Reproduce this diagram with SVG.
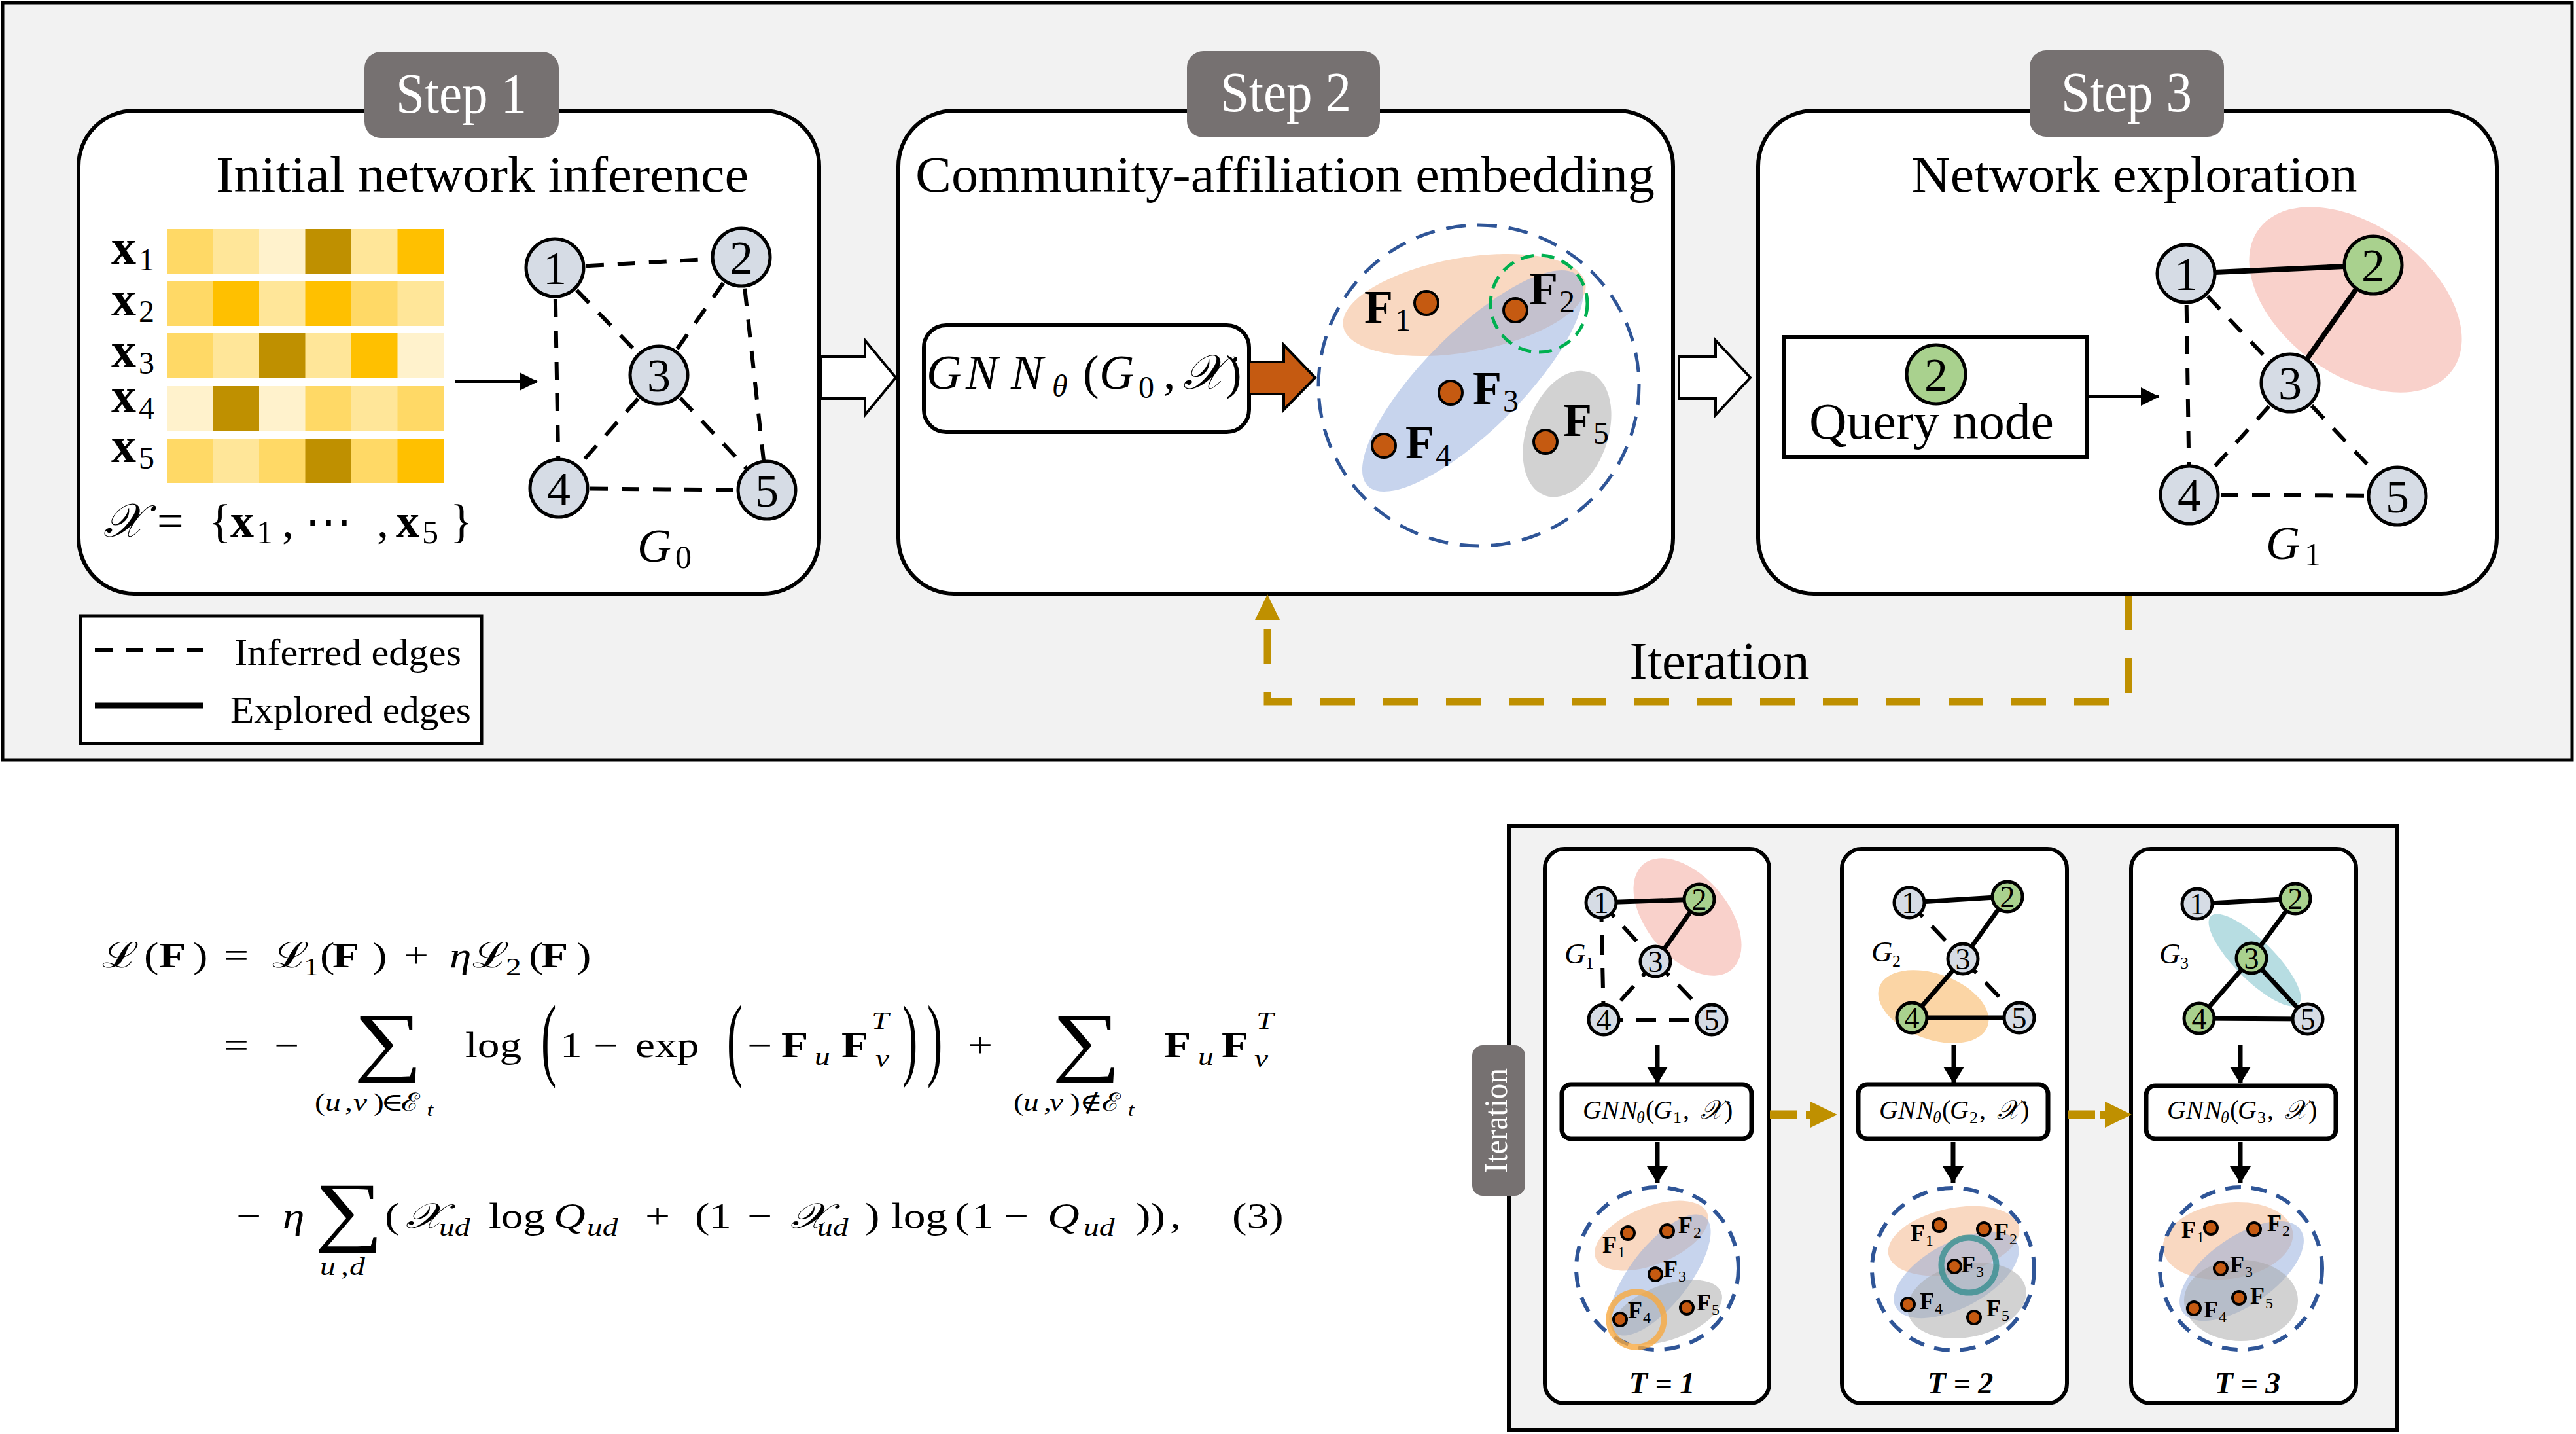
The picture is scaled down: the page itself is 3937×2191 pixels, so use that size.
<svg xmlns="http://www.w3.org/2000/svg" width="3937" height="2191" viewBox="0 0 3937 2191">
<defs>
<style>
text{font-family:"Liberation Serif","DejaVu Serif",serif;fill:#000}
.it{font-style:italic}
.b{font-weight:bold}
.wt{fill:#fff}
.panel{fill:#fff;stroke:#000;stroke-width:6}
.tab{fill:#767171}
.node{fill:#D6DCE5;stroke:#000;stroke-width:5}
.gnode{fill:#A9D18E;stroke:#000;stroke-width:5}
.dash{stroke:#000;stroke-width:6;stroke-dasharray:27 21;fill:none}
.solid{stroke:#000;stroke-width:8;fill:none}
.sdash{stroke:#000;stroke-width:6;stroke-dasharray:30 20;fill:none}
.ssolid{stroke:#000;stroke-width:7;fill:none}
.dot{fill:#C55A11;stroke:#000;stroke-width:4}
.emb{fill:none;stroke:#2F5597;stroke-width:5;stroke-dasharray:30 18}
.semb{fill:none;stroke:#2F5597;stroke-width:6;stroke-dasharray:24 16}
.eo{fill:#F4B183;opacity:0.5}
.eb{fill:#8FAADC;opacity:0.5}
.eg{fill:#A6A6A6;opacity:0.5}
.arr{stroke:#000;stroke-width:4;fill:none}
.sarr{stroke:#000;stroke-width:7;fill:none}
</style>
<marker id="ah" markerUnits="userSpaceOnUse" markerWidth="28" markerHeight="28" viewBox="0 0 28 28" refX="27" refY="14" orient="auto"><path d="M0,0 L28,14 L0,28 Z" fill="#000"/></marker>
<marker id="ahs" markerUnits="userSpaceOnUse" markerWidth="26" markerHeight="32" viewBox="0 0 26 32" refX="25" refY="16" orient="auto"><path d="M0,0 L26,16 L0,32 Z" fill="#000"/></marker>
</defs>

<!-- top frame -->
<rect x="4" y="4" width="3927" height="1157" fill="#F2F2F2" stroke="#000" stroke-width="5"/>

<!-- Step panels -->
<g id="step1">
<rect class="panel" x="120" y="169" width="1132" height="738" rx="85"/>
<rect class="tab" x="557" y="79" width="297" height="132" rx="25"/>
<text class="wt" x="705" y="172" font-size="86" text-anchor="middle" textLength="200" lengthAdjust="spacingAndGlyphs">Step 1</text>
<text x="737" y="293" font-size="78" text-anchor="middle" textLength="814" lengthAdjust="spacingAndGlyphs">Initial network inference</text>
</g>
<g id="step2">
<rect class="panel" x="1373" y="169" width="1184" height="738" rx="85"/>
<rect class="tab" x="1814" y="78" width="295" height="132" rx="25"/>
<text class="wt" x="1965" y="170" font-size="86" text-anchor="middle" textLength="200" lengthAdjust="spacingAndGlyphs">Step 2</text>
<text x="1964" y="293" font-size="78" text-anchor="middle" textLength="1130" lengthAdjust="spacingAndGlyphs">Community-affiliation embedding</text>
</g>
<g id="step3">
<rect class="panel" x="2687" y="169" width="1129" height="738" rx="85"/>
<rect class="tab" x="3102" y="77" width="297" height="132" rx="25"/>
<text class="wt" x="3250" y="170" font-size="86" text-anchor="middle" textLength="200" lengthAdjust="spacingAndGlyphs">Step 3</text>
<text x="3262" y="293" font-size="78" text-anchor="middle" textLength="681" lengthAdjust="spacingAndGlyphs">Network exploration</text>
</g>

<!-- heatmap -->
<g id="features">
<g stroke="none">
<rect x="255" y="350" width="71" height="68" fill="#FFD966"/><rect x="325.5" y="350" width="71" height="68" fill="#FFE699"/><rect x="396" y="350" width="71" height="68" fill="#FFF2CC"/><rect x="466.5" y="350" width="71" height="68" fill="#BF9000"/><rect x="537" y="350" width="71" height="68" fill="#FFE699"/><rect x="607.5" y="350" width="71" height="68" fill="#FFC000"/>
<rect x="255" y="430" width="71" height="68" fill="#FFD966"/><rect x="325.5" y="430" width="71" height="68" fill="#FFC000"/><rect x="396" y="430" width="71" height="68" fill="#FFE699"/><rect x="466.5" y="430" width="71" height="68" fill="#FFC000"/><rect x="537" y="430" width="71" height="68" fill="#FFD966"/><rect x="607.5" y="430" width="71" height="68" fill="#FFE699"/>
<rect x="255" y="509" width="71" height="68" fill="#FFD966"/><rect x="325.5" y="509" width="71" height="68" fill="#FFE699"/><rect x="396" y="509" width="71" height="68" fill="#BF9000"/><rect x="466.5" y="509" width="71" height="68" fill="#FFE699"/><rect x="537" y="509" width="71" height="68" fill="#FFC000"/><rect x="607.5" y="509" width="71" height="68" fill="#FFF2CC"/>
<rect x="255" y="590" width="71" height="68" fill="#FFF2CC"/><rect x="325.5" y="590" width="71" height="68" fill="#BF9000"/><rect x="396" y="590" width="71" height="68" fill="#FFF2CC"/><rect x="466.5" y="590" width="71" height="68" fill="#FFD966"/><rect x="537" y="590" width="71" height="68" fill="#FFE699"/><rect x="607.5" y="590" width="71" height="68" fill="#FFD966"/>
<rect x="255" y="670" width="71" height="68" fill="#FFD966"/><rect x="325.5" y="670" width="71" height="68" fill="#FFE699"/><rect x="396" y="670" width="71" height="68" fill="#FFD966"/><rect x="466.5" y="670" width="71" height="68" fill="#BF9000"/><rect x="537" y="670" width="71" height="68" fill="#FFD966"/><rect x="607.5" y="670" width="71" height="68" fill="#FFC000"/>
</g>
<text font-size="76"><tspan x="170" y="403" class="b">x</tspan><tspan x="212" y="413" font-size="48">1</tspan><tspan x="170" y="482" class="b">x</tspan><tspan x="212" y="492" font-size="48">2</tspan><tspan x="170" y="561" class="b">x</tspan><tspan x="212" y="571" font-size="48">3</tspan><tspan x="170" y="630" class="b">x</tspan><tspan x="212" y="640" font-size="48">4</tspan><tspan x="170" y="706" class="b">x</tspan><tspan x="212" y="716" font-size="48">5</tspan></text>
<text y="820" font-size="72"><tspan x="158" class="it">𝒳</tspan><tspan x="240">=</tspan><tspan x="319">{</tspan><tspan x="352" class="b">x</tspan><tspan x="392" y="830" font-size="50">1</tspan><tspan x="431" y="820">,</tspan><tspan x="466">⋯</tspan><tspan x="576">,</tspan><tspan x="605" class="b">x</tspan><tspan x="645" y="830" font-size="50">5</tspan><tspan x="688" y="820">}</tspan></text>
</g>

<!-- legend -->
<g id="legend">
<rect x="123" y="941" width="613" height="195" fill="#fff" stroke="#000" stroke-width="5"/>
<line x1="145" y1="993" x2="311" y2="993" stroke="#000" stroke-width="6" stroke-dasharray="27 20"/>
<line x1="145" y1="1078" x2="311" y2="1078" stroke="#000" stroke-width="9"/>
<text x="358" y="1016" font-size="58" textLength="347" lengthAdjust="spacingAndGlyphs">Inferred edges</text>
<text x="352" y="1104" font-size="58" textLength="368" lengthAdjust="spacingAndGlyphs">Explored edges</text>
</g>

<!-- Step 3 pink community -->
<ellipse cx="3600" cy="458" rx="183" ry="114" transform="rotate(36 3600 458)" fill="#F9D1CB"/>

<!-- Step 2 embedding -->
<g id="embedding">
<ellipse class="eo" cx="2238" cy="466" rx="188" ry="72" transform="rotate(-10 2238 466)"/>
<ellipse class="eb" cx="2251" cy="582" rx="227" ry="75" transform="rotate(-45 2251 582)"/>
<ellipse class="eg" cx="2395" cy="663" rx="100" ry="62" transform="rotate(-70 2395 663)"/>
<circle class="emb" cx="2260" cy="589" r="245"/>
<circle cx="2352" cy="464" r="74" fill="none" stroke="#00B050" stroke-width="5" stroke-dasharray="20 12"/>
<circle class="dot" cx="2180" cy="463" r="18"/>
<circle class="dot" cx="2316" cy="474" r="18"/>
<circle class="dot" cx="2217" cy="600" r="18"/>
<circle class="dot" cx="2115" cy="681" r="18"/>
<circle class="dot" cx="2362" cy="675" r="18"/>
<text y="493" font-size="72"><tspan x="2085" class="b">F</tspan><tspan x="2132" y="505" font-size="48">1</tspan></text>
<text y="465" font-size="72"><tspan x="2337" class="b">F</tspan><tspan x="2383" y="477" font-size="48">2</tspan></text>
<text y="617" font-size="72"><tspan x="2251" class="b">F</tspan><tspan x="2297" y="629" font-size="48">3</tspan></text>
<text y="700" font-size="72"><tspan x="2148" class="b">F</tspan><tspan x="2194" y="712" font-size="48">4</tspan></text>
<text y="666" font-size="72"><tspan x="2389" class="b">F</tspan><tspan x="2435" y="678" font-size="48">5</tspan></text>
</g>

<g id="gnn">
<rect x="1412" y="497" width="497" height="163" rx="34" fill="#fff" stroke="#000" stroke-width="6"/>
<text y="594" font-size="74"><tspan x="1416" class="it">G</tspan><tspan x="1476" class="it">N</tspan><tspan x="1545" class="it">N</tspan><tspan x="1608" y="606" font-size="48" class="it">θ</tspan><tspan x="1655" y="594">(</tspan><tspan x="1680" class="it">G</tspan><tspan x="1740" y="608" font-size="48">0</tspan><tspan x="1778" y="594">,</tspan><tspan x="1808" class="it">𝒳</tspan><tspan x="1873">)</tspan></text>
</g>

<g id="query">
<rect x="2726" y="515" width="463" height="183" fill="#fff" stroke="#000" stroke-width="6"/>
<circle class="gnode" cx="2959" cy="572" r="45"/>
<text x="2959" y="597" font-size="72" text-anchor="middle">2</text>
<text x="2952" y="670" font-size="78" text-anchor="middle" textLength="374" lengthAdjust="spacingAndGlyphs">Query node</text>
</g>

<!-- connectors (top) -->
<g id="connectors">
<line class="dash" x1="848" y1="409" x2="1133" y2="393"/>
<line class="dash" x1="848" y1="409" x2="1007" y2="573"/>
<line class="dash" x1="848" y1="409" x2="854" y2="746"/>
<line class="dash" x1="1133" y1="393" x2="1007" y2="573"/>
<line class="dash" x1="1133" y1="393" x2="1172" y2="749"/>
<line class="dash" x1="1007" y1="573" x2="854" y2="746"/>
<line class="dash" x1="1007" y1="573" x2="1172" y2="749"/>
<line class="dash" x1="854" y1="746" x2="1172" y2="749"/>

<line class="solid" x1="3341" y1="418" x2="3627" y2="405"/>
<line class="solid" x1="3627" y1="405" x2="3500" y2="585"/>
<line class="dash" x1="3341" y1="418" x2="3500" y2="585"/>
<line class="dash" x1="3341" y1="418" x2="3346" y2="756"/>
<line class="dash" x1="3500" y1="585" x2="3346" y2="756"/>
<line class="dash" x1="3500" y1="585" x2="3664" y2="758"/>
<line class="dash" x1="3346" y1="756" x2="3664" y2="758"/>

<line class="arr" x1="695" y1="583" x2="821" y2="583" marker-end="url(#ah)"/>
<line class="arr" x1="3189" y1="606" x2="3299" y2="606" marker-end="url(#ah)"/>

<polygon points="1909,553 1962,553 1962,527 2010,577 1962,626 1962,602 1909,602" fill="#C55A11" stroke="#000" stroke-width="4"/>
<polygon points="1255,545 1322,545 1322,520 1369,577 1322,634 1322,609 1255,609" fill="#fff" stroke="#000" stroke-width="4"/>
<polygon points="2566,545 2622,545 2622,520 2675,577 2622,634 2622,609 2566,609" fill="#fff" stroke="#000" stroke-width="4"/>

<path d="M3253,910 V1072 H1937 V945" fill="none" stroke="#BF9000" stroke-width="11" stroke-dasharray="53 43"/>
<polygon points="1937,908 1918,947 1956,947" fill="#BF9000"/>
</g>
<text x="2628" y="1037" font-size="80" text-anchor="middle" textLength="275" lengthAdjust="spacingAndGlyphs">Iteration</text>

<!-- G0 nodes -->
<g id="g0n1"><circle class="node" cx="848" cy="409" r="44"/><text x="848" y="434" font-size="72" text-anchor="middle">1</text></g>
<g id="g0n2"><circle class="node" cx="1133" cy="393" r="44"/><text x="1133" y="418" font-size="72" text-anchor="middle">2</text></g>
<g id="g0n3"><circle class="node" cx="1007" cy="573" r="44"/><text x="1007" y="598" font-size="72" text-anchor="middle">3</text></g>
<g id="g0n4"><circle class="node" cx="854" cy="746" r="44"/><text x="854" y="771" font-size="72" text-anchor="middle">4</text></g>
<g id="g0n5"><circle class="node" cx="1172" cy="749" r="44"/><text x="1172" y="774" font-size="72" text-anchor="middle">5</text></g>
<text y="858" font-size="72"><tspan x="974" class="it">G</tspan><tspan x="1032" y="868" font-size="50">0</tspan></text>

<!-- G1 nodes -->
<g id="g1n1"><circle class="node" cx="3341" cy="418" r="44"/><text x="3341" y="443" font-size="72" text-anchor="middle">1</text></g>
<g id="g1n2"><circle class="gnode" cx="3627" cy="405" r="44"/><text x="3627" y="430" font-size="72" text-anchor="middle">2</text></g>
<g id="g1n3"><circle class="node" cx="3500" cy="585" r="44"/><text x="3500" y="610" font-size="72" text-anchor="middle">3</text></g>
<g id="g1n4"><circle class="node" cx="3346" cy="756" r="44"/><text x="3346" y="781" font-size="72" text-anchor="middle">4</text></g>
<g id="g1n5"><circle class="node" cx="3664" cy="758" r="44"/><text x="3664" y="783" font-size="72" text-anchor="middle">5</text></g>
<text y="854" font-size="72"><tspan x="3463" class="it">G</tspan><tspan x="3522" y="864" font-size="50">1</tspan></text>

<!-- Formula -->
<g id="formula" transform="scale(1.25 1)" font-size="54">
<text y="1478"><tspan x="124.8">ℒ</tspan><tspan x="176">(</tspan><tspan x="194.4" class="b">F</tspan><tspan x="236">)</tspan><tspan x="273.6">=</tspan><tspan x="332.8">ℒ</tspan><tspan x="371.2" y="1490" font-size="38">1</tspan><tspan x="391.2" y="1478">(</tspan><tspan x="406.4" class="b">F</tspan><tspan x="455.2">)</tspan><tspan x="493.6">+</tspan><tspan x="549.6" class="it">η</tspan><tspan x="577.6">ℒ</tspan><tspan x="618.4" y="1490" font-size="38">2</tspan><tspan x="646.4" y="1478">(</tspan><tspan x="661.6" class="b">F</tspan><tspan x="704.8">)</tspan></text>
<text y="1615"><tspan x="273.6">=</tspan><tspan x="335.2">−</tspan><tspan x="432.8" y="1630" font-size="118">∑</tspan><tspan x="568.8" y="1615">log</tspan><tspan x="684.8">1</tspan><tspan x="725.6">−</tspan><tspan x="776.8">exp</tspan><tspan x="913.6">−</tspan><tspan x="955.2" class="b">F</tspan><tspan x="996" y="1627" font-size="38" class="it">u</tspan><tspan x="1028.8" y="1615" class="b">F</tspan><tspan x="1065.6" y="1572" font-size="38" class="it">T</tspan><tspan x="1070.4" y="1630" font-size="38" class="it">v</tspan><tspan x="1183.2" y="1615">+</tspan><tspan x="1286.4" y="1630" font-size="118">∑</tspan><tspan x="1423.2" y="1615" class="b">F</tspan><tspan x="1464.8" y="1627" font-size="38" class="it">u</tspan><tspan x="1493.6" y="1615" class="b">F</tspan><tspan x="1536" y="1572" font-size="38" class="it">T</tspan><tspan x="1533.6" y="1630" font-size="38" class="it">v</tspan><tspan font-size="38" x="384.8" y="1697">(</tspan><tspan font-size="38" x="397.6" class="it">u</tspan><tspan font-size="38" x="421.6">,</tspan><tspan font-size="38" x="432" class="it">v</tspan><tspan font-size="38" x="456.8">)</tspan><tspan font-size="38" x="465.6">∈</tspan><tspan font-size="38" x="490.4">ℰ</tspan><tspan x="522" y="1705" font-size="28" class="it">t</tspan><tspan font-size="38" x="1239.2" y="1697">(</tspan><tspan font-size="38" x="1251.2" class="it">u</tspan><tspan font-size="38" x="1276">,</tspan><tspan font-size="38" x="1283.2" class="it">v</tspan><tspan font-size="38" x="1308">)</tspan><tspan font-size="38" x="1320">∉</tspan><tspan font-size="38" x="1347.2">ℰ</tspan><tspan x="1379" y="1705" font-size="28" class="it">t</tspan></text>
<text y="1876"><tspan x="288.8">−</tspan><tspan x="345.6" class="it">η</tspan><tspan x="384.8" y="1889" font-size="118">∑</tspan><tspan x="470.4" y="1876">(</tspan><tspan x="496" class="it">𝒳</tspan><tspan x="536.8" y="1888" font-size="38" class="it">ud</tspan><tspan x="597.6" y="1876">log</tspan><tspan x="676.8" class="it">Q</tspan><tspan x="717.6" y="1888" font-size="38" class="it">ud</tspan><tspan x="788.8" y="1876">+</tspan><tspan x="849.6">(</tspan><tspan x="867.2">1</tspan><tspan x="913.6">−</tspan><tspan x="966.4" class="it">𝒳</tspan><tspan x="999.2" y="1888" font-size="38" class="it">ud</tspan><tspan x="1057.6" y="1876">)</tspan><tspan x="1089.6">log</tspan><tspan x="1167.2">(</tspan><tspan x="1188">1</tspan><tspan x="1227.2">−</tspan><tspan x="1280.8" class="it">Q</tspan><tspan x="1324.8" y="1888" font-size="38" class="it">ud</tspan><tspan x="1388.8" y="1876">))</tspan><tspan x="1430.4">,</tspan><tspan x="1506.4">(3)</tspan><tspan x="391.2" y="1948" font-size="38" class="it">u</tspan><tspan x="416.8" font-size="38">,</tspan><tspan x="427.2" font-size="38" class="it">d</tspan></text>
</g>
<text transform="translate(827 1633) scale(0.5 1)" font-size="140">(</text>
<text transform="translate(1111 1633) scale(0.5 1)" font-size="140">(</text>
<text transform="translate(1379 1633) scale(0.5 1)" font-size="140">)</text>
<text transform="translate(1417 1633) scale(0.5 1)" font-size="140">)</text>

<!-- bottom right iteration panel -->
<rect x="2306" y="1262" width="1357" height="923" fill="#F2F2F2" stroke="#000" stroke-width="6"/>
<g id="iterTab">
<rect class="tab" x="2250" y="1597" width="81" height="230" rx="16"/>
<text class="wt" transform="translate(2303 1712) rotate(-90)" font-size="50" text-anchor="middle" textLength="160" lengthAdjust="spacingAndGlyphs">Iteration</text>
</g>

<!-- T1 -->
<g id="T1" transform="translate(2361 1297)">
<rect class="panel" x="0" y="0" width="343" height="847" rx="30"/>
<ellipse cx="218" cy="104" rx="105" ry="62" transform="rotate(50 218 104)" fill="#F9D1CB"/>
<line class="ssolid" x1="86" y1="82" x2="236" y2="77"/>
<line class="ssolid" x1="236" y1="77" x2="169" y2="172"/>
<line class="sdash" x1="86" y1="82" x2="169" y2="172"/>
<line class="sdash" x1="86" y1="82" x2="90" y2="261"/>
<line class="sdash" x1="169" y1="172" x2="90" y2="261"/>
<line class="sdash" x1="169" y1="172" x2="255" y2="261"/>
<line class="sdash" x1="90" y1="261" x2="255" y2="261"/>
<g id="t1n1"><circle class="node" cx="86" cy="82" r="23"/><text x="86" y="98" font-size="46" text-anchor="middle">1</text></g>
<g id="t1n2"><circle class="gnode" cx="236" cy="77" r="23"/><text x="236" y="93" font-size="46" text-anchor="middle">2</text></g>
<g id="t1n3"><circle class="node" cx="169" cy="172" r="23"/><text x="169" y="188" font-size="46" text-anchor="middle">3</text></g>
<g id="t1n4"><circle class="node" cx="90" cy="261" r="23"/><text x="90" y="277" font-size="46" text-anchor="middle">4</text></g>
<g id="t1n5"><circle class="node" cx="255" cy="261" r="23"/><text x="255" y="277" font-size="46" text-anchor="middle">5</text></g>
<text y="175" font-size="45"><tspan x="30" class="it">G</tspan><tspan x="62" y="183" font-size="26">1</tspan></text>
<line class="sarr" x1="172" y1="300" x2="172" y2="358" marker-end="url(#ahs)"/>
<rect x="26" y="360" width="290" height="83" rx="14" fill="#fff" stroke="#000" stroke-width="7"/>
<text y="412" font-size="40"><tspan x="58" class="it">G</tspan><tspan x="87" class="it">N</tspan><tspan x="115" class="it">N</tspan><tspan x="140" y="419" font-size="26" class="it">θ</tspan><tspan x="154" y="412">(</tspan><tspan x="166" class="it">G</tspan><tspan x="196" y="419" font-size="26">1</tspan><tspan x="211" y="412">,</tspan><tspan x="238" class="it">𝒳</tspan><tspan x="274">)</tspan></text>
<line class="sarr" x1="172" y1="448" x2="172" y2="510" marker-end="url(#ahs)"/>
<ellipse class="eo" cx="163" cy="591" rx="92" ry="44" transform="rotate(-22 163 591)"/>
<ellipse class="eb" cx="176" cy="651" rx="112" ry="45" transform="rotate(-52 176 651)"/>
<ellipse class="eg" cx="187" cy="708" rx="88" ry="42" transform="rotate(-20 187 708)"/>
<circle class="semb" cx="172" cy="641" r="124"/>
<circle cx="140" cy="719" r="42" fill="none" stroke="#F7A940" stroke-width="9" opacity="0.8"/>
<circle class="dot" cx="127" cy="587" r="10"/>
<circle class="dot" cx="187" cy="584" r="10"/>
<circle class="dot" cx="169" cy="650" r="10"/>
<circle class="dot" cx="115" cy="719" r="10"/>
<circle class="dot" cx="217" cy="701" r="10"/>
<text y="617" font-size="36"><tspan x="88" class="b">F</tspan><tspan x="111" y="624" font-size="24">1</tspan></text>
<text y="587" font-size="36"><tspan x="204" class="b">F</tspan><tspan x="227" y="594" font-size="24">2</tspan></text>
<text y="654" font-size="36"><tspan x="181" class="b">F</tspan><tspan x="204" y="661" font-size="24">3</tspan></text>
<text y="717" font-size="36"><tspan x="127" class="b">F</tspan><tspan x="150" y="724" font-size="24">4</tspan></text>
<text y="705" font-size="36"><tspan x="232" class="b">F</tspan><tspan x="255" y="712" font-size="24">5</tspan></text>
<text x="179" y="832" font-size="46" text-anchor="middle" class="it b">T = 1</text>
</g>

<!-- T2 -->
<g id="T2" transform="translate(2815 1297)">
<rect class="panel" x="0" y="0" width="344" height="847" rx="30"/>
<ellipse cx="140" cy="241" rx="88" ry="50" transform="rotate(20 140 241)" fill="#FBD5A5"/>
<line class="ssolid" x1="103" y1="82" x2="253" y2="73"/>
<line class="ssolid" x1="253" y1="73" x2="185" y2="168"/>
<line class="ssolid" x1="185" y1="168" x2="107" y2="258"/>
<line class="ssolid" x1="107" y1="258" x2="271" y2="258"/>
<line class="sdash" x1="103" y1="82" x2="185" y2="168"/>
<line class="sdash" x1="185" y1="168" x2="271" y2="258"/>
<g id="t2n1"><circle class="node" cx="103" cy="82" r="23"/><text x="103" y="98" font-size="46" text-anchor="middle">1</text></g>
<g id="t2n2"><circle class="gnode" cx="253" cy="73" r="23"/><text x="253" y="89" font-size="46" text-anchor="middle">2</text></g>
<g id="t2n3"><circle class="node" cx="185" cy="168" r="23"/><text x="185" y="184" font-size="46" text-anchor="middle">3</text></g>
<g id="t2n4"><circle class="gnode" cx="107" cy="258" r="23"/><text x="107" y="274" font-size="46" text-anchor="middle">4</text></g>
<g id="t2n5"><circle class="node" cx="271" cy="258" r="23"/><text x="271" y="274" font-size="46" text-anchor="middle">5</text></g>
<text y="172" font-size="45"><tspan x="45" class="it">G</tspan><tspan x="77" y="180" font-size="26">2</tspan></text>
<line class="sarr" x1="171" y1="300" x2="171" y2="358" marker-end="url(#ahs)"/>
<rect x="25" y="360" width="290" height="83" rx="14" fill="#fff" stroke="#000" stroke-width="7"/>
<text y="412" font-size="40"><tspan x="57" class="it">G</tspan><tspan x="86" class="it">N</tspan><tspan x="114" class="it">N</tspan><tspan x="139" y="419" font-size="26" class="it">θ</tspan><tspan x="153" y="412">(</tspan><tspan x="165" class="it">G</tspan><tspan x="195" y="419" font-size="26">2</tspan><tspan x="210" y="412">,</tspan><tspan x="237" class="it">𝒳</tspan><tspan x="273">)</tspan></text>
<line class="sarr" x1="170" y1="448" x2="170" y2="510" marker-end="url(#ahs)"/>
<ellipse class="eo" cx="171" cy="599" rx="102" ry="50" transform="rotate(-12 171 599)"/>
<ellipse class="eb" cx="175" cy="651" rx="105" ry="50" transform="rotate(-28 175 651)"/>
<ellipse class="eg" cx="191" cy="690" rx="92" ry="56" transform="rotate(-12 191 690)"/>
<circle class="semb" cx="170" cy="642" r="124"/>
<circle cx="194" cy="636" r="42" fill="none" stroke="#2E8B8B" stroke-width="9" opacity="0.75"/>
<circle class="dot" cx="149" cy="575" r="10"/>
<circle class="dot" cx="217" cy="581" r="10"/>
<circle class="dot" cx="172" cy="638" r="10"/>
<circle class="dot" cx="101" cy="696" r="10"/>
<circle class="dot" cx="202" cy="716" r="10"/>
<text y="599" font-size="36"><tspan x="105" class="b">F</tspan><tspan x="128" y="606" font-size="24">1</tspan></text>
<text y="597" font-size="36"><tspan x="233" class="b">F</tspan><tspan x="256" y="604" font-size="24">2</tspan></text>
<text y="647" font-size="36"><tspan x="182" class="b">F</tspan><tspan x="205" y="654" font-size="24">3</tspan></text>
<text y="703" font-size="36"><tspan x="119" class="b">F</tspan><tspan x="142" y="710" font-size="24">4</tspan></text>
<text y="714" font-size="36"><tspan x="221" class="b">F</tspan><tspan x="244" y="721" font-size="24">5</tspan></text>
<text x="181" y="832" font-size="46" text-anchor="middle" class="it b">T = 2</text>
</g>

<!-- T3 -->
<g id="T3" transform="translate(3257 1297)">
<rect class="panel" x="0" y="0" width="344" height="847" rx="30"/>
<ellipse cx="189" cy="170" rx="95" ry="30" transform="rotate(45 189 170)" fill="#B7DDE2"/>
<line class="ssolid" x1="101" y1="84" x2="251" y2="76"/>
<line class="ssolid" x1="251" y1="76" x2="184" y2="167"/>
<line class="ssolid" x1="184" y1="167" x2="104" y2="259"/>
<line class="ssolid" x1="184" y1="167" x2="270" y2="260"/>
<line class="ssolid" x1="104" y1="259" x2="270" y2="260"/>
<g id="t3n1"><circle class="node" cx="101" cy="84" r="23"/><text x="101" y="100" font-size="46" text-anchor="middle">1</text></g>
<g id="t3n2"><circle class="gnode" cx="251" cy="76" r="23"/><text x="251" y="92" font-size="46" text-anchor="middle">2</text></g>
<g id="t3n3"><circle class="gnode" cx="184" cy="167" r="23"/><text x="184" y="183" font-size="46" text-anchor="middle">3</text></g>
<g id="t3n4"><circle class="gnode" cx="104" cy="259" r="23"/><text x="104" y="275" font-size="46" text-anchor="middle">4</text></g>
<g id="t3n5"><circle class="node" cx="270" cy="260" r="23"/><text x="270" y="276" font-size="46" text-anchor="middle">5</text></g>
<text y="175" font-size="45"><tspan x="43" class="it">G</tspan><tspan x="75" y="183" font-size="26">3</tspan></text>
<line class="sarr" x1="167" y1="300" x2="167" y2="358" marker-end="url(#ahs)"/>
<rect x="23" y="362" width="290" height="81" rx="14" fill="#fff" stroke="#000" stroke-width="7"/>
<text y="412" font-size="40"><tspan x="55" class="it">G</tspan><tspan x="84" class="it">N</tspan><tspan x="112" class="it">N</tspan><tspan x="137" y="419" font-size="26" class="it">θ</tspan><tspan x="151" y="412">(</tspan><tspan x="163" class="it">G</tspan><tspan x="193" y="419" font-size="26">3</tspan><tspan x="208" y="412">,</tspan><tspan x="235" class="it">𝒳</tspan><tspan x="271">)</tspan></text>
<line class="sarr" x1="167" y1="448" x2="167" y2="510" marker-end="url(#ahs)"/>
<ellipse class="eo" cx="148" cy="599" rx="100" ry="58" transform="rotate(-8 148 599)"/>
<ellipse class="eb" cx="169" cy="645" rx="110" ry="52" transform="rotate(-35 169 645)"/>
<ellipse class="eg" cx="168" cy="690" rx="87" ry="62"/>
<circle class="semb" cx="168" cy="641" r="124"/>
<circle class="dot" cx="122" cy="579" r="10"/>
<circle class="dot" cx="188" cy="581" r="10"/>
<circle class="dot" cx="137" cy="641" r="10"/>
<circle class="dot" cx="96" cy="702" r="10"/>
<circle class="dot" cx="165" cy="686" r="10"/>
<text y="594" font-size="36"><tspan x="77" class="b">F</tspan><tspan x="100" y="601" font-size="24">1</tspan></text>
<text y="584" font-size="36"><tspan x="208" class="b">F</tspan><tspan x="231" y="591" font-size="24">2</tspan></text>
<text y="647" font-size="36"><tspan x="151" class="b">F</tspan><tspan x="174" y="654" font-size="24">3</tspan></text>
<text y="716" font-size="36"><tspan x="111" class="b">F</tspan><tspan x="134" y="723" font-size="24">4</tspan></text>
<text y="695" font-size="36"><tspan x="182" class="b">F</tspan><tspan x="205" y="702" font-size="24">5</tspan></text>
<text x="178" y="832" font-size="46" text-anchor="middle" class="it b">T = 3</text>
</g>

<g id="iterArrows">
<line x1="2705" y1="1703" x2="2747" y2="1703" stroke="#BF9000" stroke-width="13"/>
<polygon points="2760,1697 2767,1697 2767,1683 2808,1703 2767,1723 2767,1709 2760,1709" fill="#BF9000"/>
<line x1="3160" y1="1703" x2="3202" y2="1703" stroke="#BF9000" stroke-width="13"/>
<polygon points="3210,1697 3217,1697 3217,1683 3258,1703 3217,1723 3217,1709 3210,1709" fill="#BF9000"/>
</g>
</svg>
